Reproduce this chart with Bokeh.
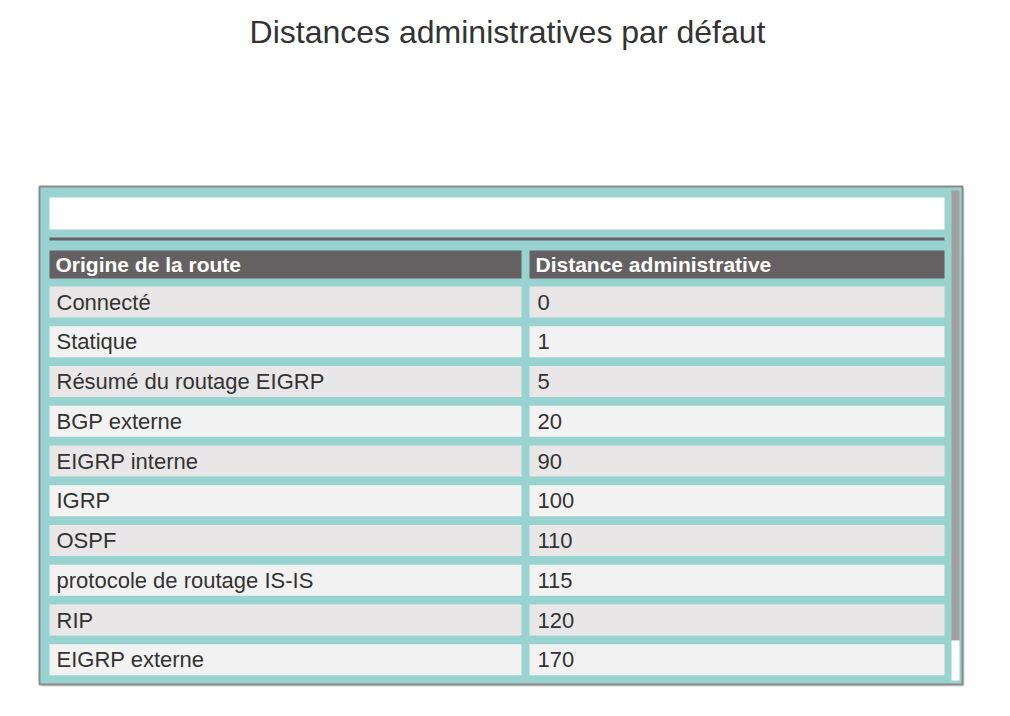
from bokeh.core.properties import value
from bokeh.embed import file_html
from bokeh.models import ColumnDataSource, Range1d
from bokeh.plotting import figure
from bokeh.resources import INLINE

title = "Distances administratives par défaut"
headers = ["Origine de la route", "Distance administrative"]
routes = ["Connecté", "Statique", "Résumé du routage EIGRP", "BGP externe",
          "EIGRP interne", "IGRP", "OSPF", "protocole de routage IS-IS",
          "RIP", "EIGRP externe"]
distances = [0, 1, 5, 20, 90, 100, 110, 115, 120, 170]

W, H = 994, 700
OFF = 0  # positions below are screen px
FONT = value("Liberation Sans")

p = figure(width=W, height=H, output_backend="svg", toolbar_location=None,
           x_range=Range1d(0, W), y_range=Range1d(H, 0), min_border=0)
p.axis.visible = False
p.grid.visible = False
p.outline_line_color = None
p.background_fill_color = "white"


def box(x0, y0, x1, y1, **kw):
    p.quad(left=x0 - OFF, right=x1 - OFF, top=y0 - OFF, bottom=y1 - OFF, **kw)


# outer frame
box(41, 188, 964, 686, fill_color="#d9d9d9", line_color=None)
box(39, 186, 962, 684, fill_color="#99d3d1", line_color="#8a8a8a", line_width=2)
box(951, 190, 959, 640, fill_color="#a0a0a0", line_color=None)
box(951, 640, 959, 680, fill_color="white", line_color=None)
box(49, 197, 944, 229, fill_color="white", line_color=None)
box(49, 237, 944, 240, fill_color="#666364", line_color=None)

# header
c0, c1, c2, c3 = 49, 521, 529, 944
box(c0, 250, c1, 278, fill_color="#656162", line_color=None)
box(c2, 250, c3, 278, fill_color="#656162", line_color=None)
p.text(x=[c0 + 6 - OFF, c2 + 6 - OFF], y=[264 - OFF] * 2, text=headers,
       text_font=FONT, text_font_size="21px", text_font_style="bold",
       text_color="white", text_baseline="middle")

# rows
n = len(routes)
centers = [301.5 + i * 39.75 - OFF for i in range(n)]
fills = ["#e8e6e7" if i % 2 == 0 else "#f2f2f2" for i in range(n)]
src = ColumnDataSource(dict(y=centers, fill=fills, r=routes,
                            d=[str(v) for v in distances]))
for a, b in [(c0, c1), (c2, c3)]:
    p.rect(x=(a + b) / 2 - OFF, y="y", width=b - a, height=31, source=src,
           fill_color="fill", line_color=None)
p.text(x=c0 + 7 - OFF, y="y", text="r", source=src, text_font=FONT,
       text_font_size="22px", text_color="#333333", text_baseline="middle")
p.text(x=c2 + 8 - OFF, y="y", text="d", source=src, text_font=FONT,
       text_font_size="22px", text_color="#333333", text_baseline="middle")

p.text(x=[507 - OFF], y=[31 - OFF], text=[title], text_font=FONT,
       text_font_size="32px", text_color="#333333", text_align="center",
       text_baseline="middle")

open("out.html", "w").write(file_html(p, INLINE))
